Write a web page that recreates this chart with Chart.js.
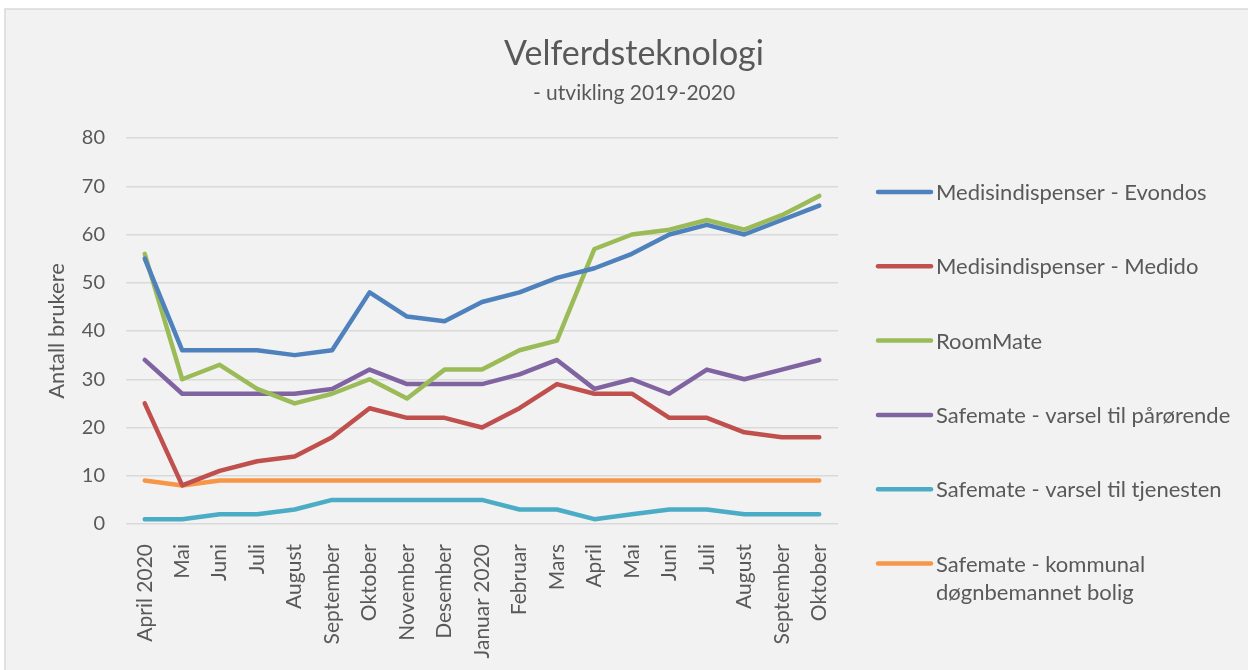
<!DOCTYPE html>
<html>
<head>
<meta charset="utf-8">
<script src="https://cdn.jsdelivr.net/npm/chart.js@4"></script>
<style>
  body { margin: 0; background: #fff; }
  #wrap { width: 1248px; height: 670px; }
</style>
</head>
<body>
<div id="wrap"><canvas id="velferd-chart"></canvas></div>
<script>
const months = [
    'April 2020', 'Mai', 'Juni', 'Juli', 'August', 'September', 'Oktober',
    'November', 'Desember', 'Januar 2020', 'Februar', 'Mars', 'April',
    'Mai', 'Juni', 'Juli', 'August', 'September', 'Oktober'
];

const evondos   = [55, 36, 36, 36, 35, 36, 48, 43, 42, 46, 48, 51, 53, 56, 60, 62, 60, 63, 66];
const medido    = [25, 8, 11, 13, 14, 18, 24, 22, 22, 20, 24, 29, 27, 27, 22, 22, 19, 18, 18];
const roomMate  = [56, 30, 33, 28, 25, 27, 30, 26, 32, 32, 36, 38, 57, 60, 61, 63, 61, 64, 68];
const parorende = [34, 27, 27, 27, 27, 28, 32, 29, 29, 29, 31, 34, 28, 30, 27, 32, 30, 32, 34];
const tjenesten = [1, 1, 2, 2, 3, 5, 5, 5, 5, 5, 3, 3, 1, 2, 3, 3, 2, 2, 2];
const kommunal  = [9, 8, 9, 9, 9, 9, 9, 9, 9, 9, 9, 9, 9, 9, 9, 9, 9, 9, 9];

const seriesNames = [
    'Medisindispenser - Evondos',
    'Medisindispenser - Medido',
    'RoomMate',
    'Safemate - varsel til pårørende',
    'Safemate - varsel til tjenesten',
    ['Safemate - kommunal', 'døgnbemannet bolig']
];
const seriesColors = ['#4f81bd', '#c0504d', '#9bbb59', '#8064a2', '#4bacc6', '#f79646'];
const yTicks = [0, 10, 20, 30, 40, 50, 60, 70, 80];

const FONT = 'Lato, "Open Sans", sans-serif';
const TEXT = '#595959';

function line(idx, values) {
    return {
        label: seriesNames[idx],
        data: values,
        borderColor: seriesColors[idx],
        backgroundColor: seriesColors[idx],
        borderWidth: 4.5,
        borderCapStyle: 'round',
        borderJoinStyle: 'round',
        pointRadius: 0,
        tension: 0,
        fill: false
    };
}

// background, title and legend drawn on the canvas
const decor = {
    id: 'decor',
    beforeDraw(chart) {
        const ctx = chart.ctx;
        ctx.save();
        ctx.fillStyle = '#ffffff';
        ctx.fillRect(0, 0, chart.width, chart.height);
        ctx.fillStyle = '#f2f2f2';
        ctx.fillRect(5, 9, chart.width, chart.height);
        ctx.strokeStyle = '#d9d9d9';
        ctx.lineWidth = 1.5;
        ctx.beginPath();
        ctx.moveTo(5, chart.height);
        ctx.lineTo(5, 9);
        ctx.lineTo(chart.width, 9);
        ctx.stroke();
        ctx.restore();
    },
    afterDraw(chart) {
        const ctx = chart.ctx;
        ctx.save();
        ctx.fillStyle = TEXT;
        ctx.textAlign = 'center';
        ctx.textBaseline = 'middle';
        ctx.font = '34px ' + FONT;
        ctx.fillText('Velferdsteknologi', 634, 54);
        ctx.font = '21px ' + FONT;
        ctx.fillText('- utvikling 2019-2020', 634, 93);

        ctx.textAlign = 'left';
        ctx.font = '22px ' + FONT;
        chart.data.datasets.forEach((ds, i) => {
            const y = 192 + i * 74.3;
            ctx.strokeStyle = ds.borderColor;
            ctx.lineWidth = 4.5;
            ctx.lineCap = 'round';
            ctx.beginPath();
            ctx.moveTo(878, y);
            ctx.lineTo(931, y);
            ctx.stroke();
            const lines = Array.isArray(ds.label) ? ds.label : [ds.label];
            lines.forEach((t, j) => ctx.fillText(t, 936, y + 1 + j * 28));
        });
        ctx.restore();
    }
};

new Chart(document.getElementById('velferd-chart'), {
    type: 'line',
    data: {
        labels: months,
        datasets: [
            line(0, evondos),
            line(1, medido),
            line(2, roomMate),
            line(3, parorende),
            line(4, tjenesten),
            line(5, kommunal)
        ]
    },
    options: {
        responsive: true,
        maintainAspectRatio: false,
        animation: false,
        layout: { padding: { top: 138, right: 410, left: 0, bottom: 0 } },
        plugins: {
            legend: { display: false },
            title: { display: false },
            tooltip: { enabled: false }
        },
        scales: {
            x: {
                offset: true,
                grid: { display: false },
                border: { display: false },
                ticks: {
                    color: TEXT,
                    font: { family: FONT, size: 21 },
                    minRotation: 90,
                    maxRotation: 90,
                    autoSkip: false,
                    padding: 12
                },
                afterFit(scale) { scale.height = 146; }
            },
            y: {
                min: 0,
                max: 80,
                afterBuildTicks(scale) { scale.ticks = yTicks.map(v => ({ value: v })); },
                grid: { color: '#d9d9d9', lineWidth: 1.5, drawTicks: false },
                border: { display: false },
                ticks: {
                    color: TEXT,
                    font: { family: FONT, size: 20 },
                    padding: 21
                },
                title: {
                    display: true,
                    text: 'Antall brukere',
                    color: TEXT,
                    font: { family: FONT, size: 22 },
                    padding: { top: 44, bottom: 0 }
                },
                afterFit(scale) { scale.width = 126; }
            }
        }
    },
    plugins: [decor]
});
</script>
</body>
</html>
